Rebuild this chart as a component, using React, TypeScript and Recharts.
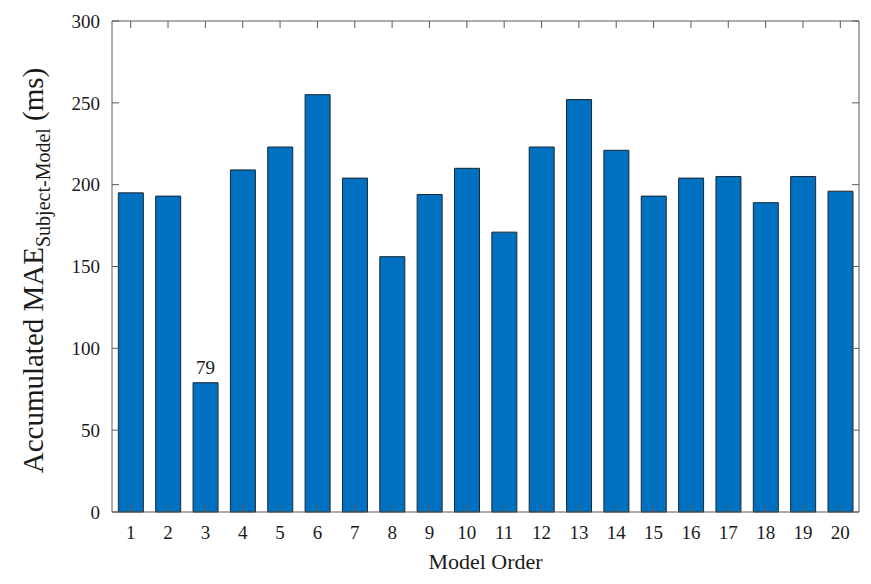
import { ComposedChart, Bar, Line, XAxis, YAxis, LabelList } from 'recharts';

const modelOrders = ['1', '2', '3', '4', '5', '6', '7', '8', '9', '10', '11', '12', '13', '14', '15', '16', '17', '18', '19', '20'];
const accumulatedMae = [195, 193, 79, 209, 223, 255, 204, 156, 194, 210, 171, 223, 252, 221, 193, 204, 205, 189, 205, 196];
const annotated = ['3'];
const yTicks = [0, 50, 100, 150, 200, 250, 300];

const data = modelOrders.map((name, i) => ({
  name,
  mae: accumulatedMae[i],
  note: annotated.includes(name) ? String(accumulatedMae[i]) : '',
}));

const FONT = '"Liberation Serif", "DejaVu Serif", serif';
const AXIS = '#5a5a5a';
const TEXT = '#1a1a1a';

function YLabel({ viewBox }: any) {
  const cy = viewBox.y + viewBox.height / 2 + 4;
  return (
    <text
      x={43}
      y={cy}
      transform={`rotate(-90, 43, ${cy})`}
      textAnchor="middle"
      fill={TEXT}
      fontFamily={FONT}
      fontSize={29}
    >
      Accumulated MAE
      <tspan fontSize={20} dy={7}>Subject-Model</tspan>
      <tspan dy={-7}> (ms)</tspan>
    </text>
  );
}

export default function App() {
  return (
    <div style={{ position: 'absolute', left: 0, top: 0, background: '#fff', fontFamily: FONT }}>
      <ComposedChart
        width={871}
        height={584}
        data={data}
        margin={{ top: 20, right: 11, left: 0, bottom: 0 }}
        barCategoryGap="17%"
        style={{ fontFamily: FONT }}
      >
        <XAxis
          dataKey="name"
          height={72}
          stroke={AXIS}
          tickSize={-7}
          tickMargin={21}
          tick={{ fill: TEXT, fontFamily: FONT, fontSize: 19 }}
          interval={0}
          label={{ value: 'Model Order', position: 'insideBottom', offset: 15, fill: TEXT, fontFamily: FONT, fontSize: 22 }}
        />
        <XAxis
          xAxisId="top"
          dataKey="name"
          orientation="top"
          height={1}
          stroke={AXIS}
          tickSize={-7}
          tick={() => <g />}
          interval={0}
        />
        <YAxis
          width={112}
          domain={[0, 300]}
          ticks={yTicks}
          stroke={AXIS}
          tickSize={-7}
          tickMargin={19}
          tick={{ fill: TEXT, fontFamily: FONT, fontSize: 19 }}
          label={<YLabel />}
        />
        <YAxis
          yAxisId="right"
          orientation="right"
          width={1}
          domain={[0, 300]}
          ticks={yTicks}
          stroke={AXIS}
          tickSize={-7}
          tick={() => <g />}
        />
        <Bar dataKey="mae" fill="#0070c0" stroke="#1a2633" strokeWidth={1} isAnimationActive={false}>
          <LabelList dataKey="note" position="top" offset={9} fill={TEXT} fontFamily={FONT} fontSize={19} />
        </Bar>
        <Line
          xAxisId="top"
          yAxisId="right"
          dataKey="mae"
          stroke="none"
          dot={false}
          activeDot={false}
          legendType="none"
          isAnimationActive={false}
        />
      </ComposedChart>
    </div>
  );
}
